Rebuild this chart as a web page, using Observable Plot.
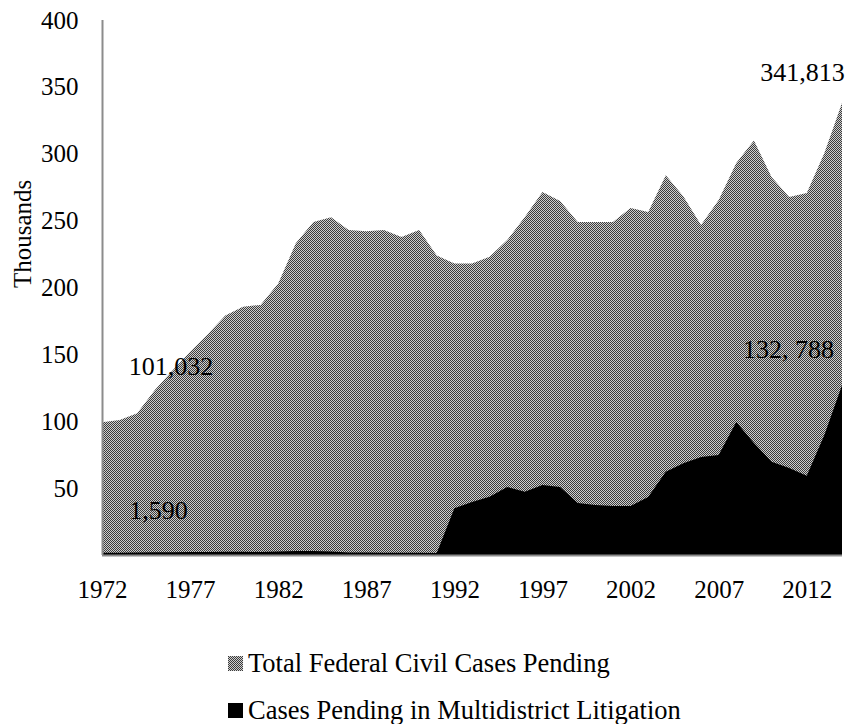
<!DOCTYPE html>
<html>
<head>
<meta charset="utf-8">
<script src="https://cdn.jsdelivr.net/npm/d3@7"></script>
<script src="https://cdn.jsdelivr.net/npm/@observablehq/plot@0.6"></script>
<style>
  html, body { margin: 0; padding: 0; background: #fff; }
  body { width: 845px; height: 724px; position: relative; overflow: hidden; font-family: "Liberation Serif", "Times New Roman", serif; }
  #chart { position: absolute; left: 0; top: 0; }
  .legend-row { position: absolute; left: 228px; height: 30px; line-height: 30px; font-size: 26.5px; color: #000; white-space: nowrap; display: flex; align-items: center; }
  .legend-row svg { margin-right: 5px; }
</style>
</head>
<body>
<svg width="0" height="0" style="position:absolute">
  <defs>
    <pattern id="checker" width="2" height="2" patternUnits="userSpaceOnUse">
      <rect x="0" y="0" width="2" height="2" fill="#cfcfcf"></rect>
      <rect x="0" y="0" width="1" height="1" fill="#3c3c3c"></rect>
      <rect x="1" y="1" width="1" height="1" fill="#3c3c3c"></rect>
    </pattern>
  </defs>
</svg>
<div id="chart"></div>
<div class="legend-row" style="top:648px"><svg width="15" height="15"><rect width="15" height="15" fill="url(#checker)"></rect></svg>Total Federal Civil Cases Pending</div>
<div class="legend-row" style="top:695px"><svg width="15" height="15"><rect width="15" height="15" fill="#000"></rect></svg>Cases Pending in Multidistrict Litigation</div>
<script>
const years = [1972,1973,1974,1975,1976,1977,1978,1979,1980,1981,
  1982,1983,1984,1985,1986,1987,1988,1989,1990,1991,
  1992,1993,1994,1995,1996,1997,1998,1999,2000,2001,
  2002,2003,2004,2005,2006,2007,2008,2009,2010,2011,
  2012,2013,2014];

// thousands of cases
const totalPending = [99.2,101.0,106.0,123.4,138,152,165,179,185.6,187,
  203,233,249,252.6,243,242,243,237.8,243,224,
  218,218,223,235.5,252.7,271.4,264.7,249,249,249,
  259.4,256.4,284,268,246.7,265.4,293,310,282.6,267.7,
  270.7,300.6,338];

const mdlPending = [1.6,1.7,1.8,2.0,2.1,2.2,2.3,2.5,2.4,2.3,
  2.6,2.9,3.0,2.6,1.9,1.8,1.7,1.6,1.6,1.5,
  35,39.6,43.6,50.8,47.3,52.3,50.8,38.9,37.4,36.6,
  36.6,43.4,62.3,68.6,73.3,74.8,99.4,83.7,69.8,65,
  59.3,89.7,127];

const xTicks = [1972,1977,1982,1987,1992,1997,2002,2007,2012];
const yTicks = [50,100,150,200,250,300,350,400];

const seriesNames = ["Total Federal Civil Cases Pending", "Cases Pending in Multidistrict Litigation"];

const totalData = years.map((y, i) => ({year: y, value: totalPending[i]}));
const mdlData = years.map((y, i) => ({year: y, value: mdlPending[i]}));

const font = "Liberation Serif, Times New Roman, serif";

const chart = Plot.plot({
  width: 845,
  height: 620,
  marginLeft: 102,
  marginRight: 3,
  marginTop: 20,
  marginBottom: 65,
  style: {fontFamily: font, fontSize: "25px", color: "#000", background: "transparent"},
  x: {domain: [1972, 2014], axis: null},
  y: {domain: [0, 400], axis: null},
  marks: [
    Plot.areaY(totalData, {x: "year", y: "value", fill: "url(#checker)", curve: "linear"}),
    Plot.areaY(mdlData, {x: "year", y: "value", fill: "#000", curve: "linear"}),
    Plot.ruleX([1972], {y1: 0, y2: 400, stroke: "#8c8c8c", strokeWidth: 2}),
    Plot.ruleY([0], {stroke: "#8c8c8c", strokeWidth: 2}),
    Plot.axisX({ticks: xTicks, tickFormat: d => String(d), tickSize: 0, tickPadding: 25, fontSize: 25, fill: "#000", label: null}),
    Plot.axisY({ticks: yTicks, tickFormat: d => String(d), tickSize: 0, tickPadding: 24, fontSize: 25, fill: "#000", label: null}),
    Plot.text(["Thousands"], {frameAnchor: "left", rotate: -90, dx: -80, dy: 0, fontSize: 25, fill: "#000"}),
    Plot.text([totalData[1]], {x: "year", y: "value", text: d => "101,032", dx: 51, dy: -54, fontSize: 26, fill: "#000"}),
    Plot.text([mdlData[0]], {x: "year", y: "value", text: d => "1,590", dx: 56, dy: -43, fontSize: 26, fill: "#000"}),
    Plot.text([totalData[totalData.length - 1]], {x: "year", y: "value", text: d => "341,813", dx: -40, dy: -31, fontSize: 26, fill: "#000"}),
    Plot.text([mdlData[mdlData.length - 1]], {x: "year", y: "value", text: d => "132, 788", dx: -54, dy: -36, fontSize: 26, fill: "#000"})
  ]
});
document.getElementById("chart").appendChild(chart);
</script>
</body>
</html>
